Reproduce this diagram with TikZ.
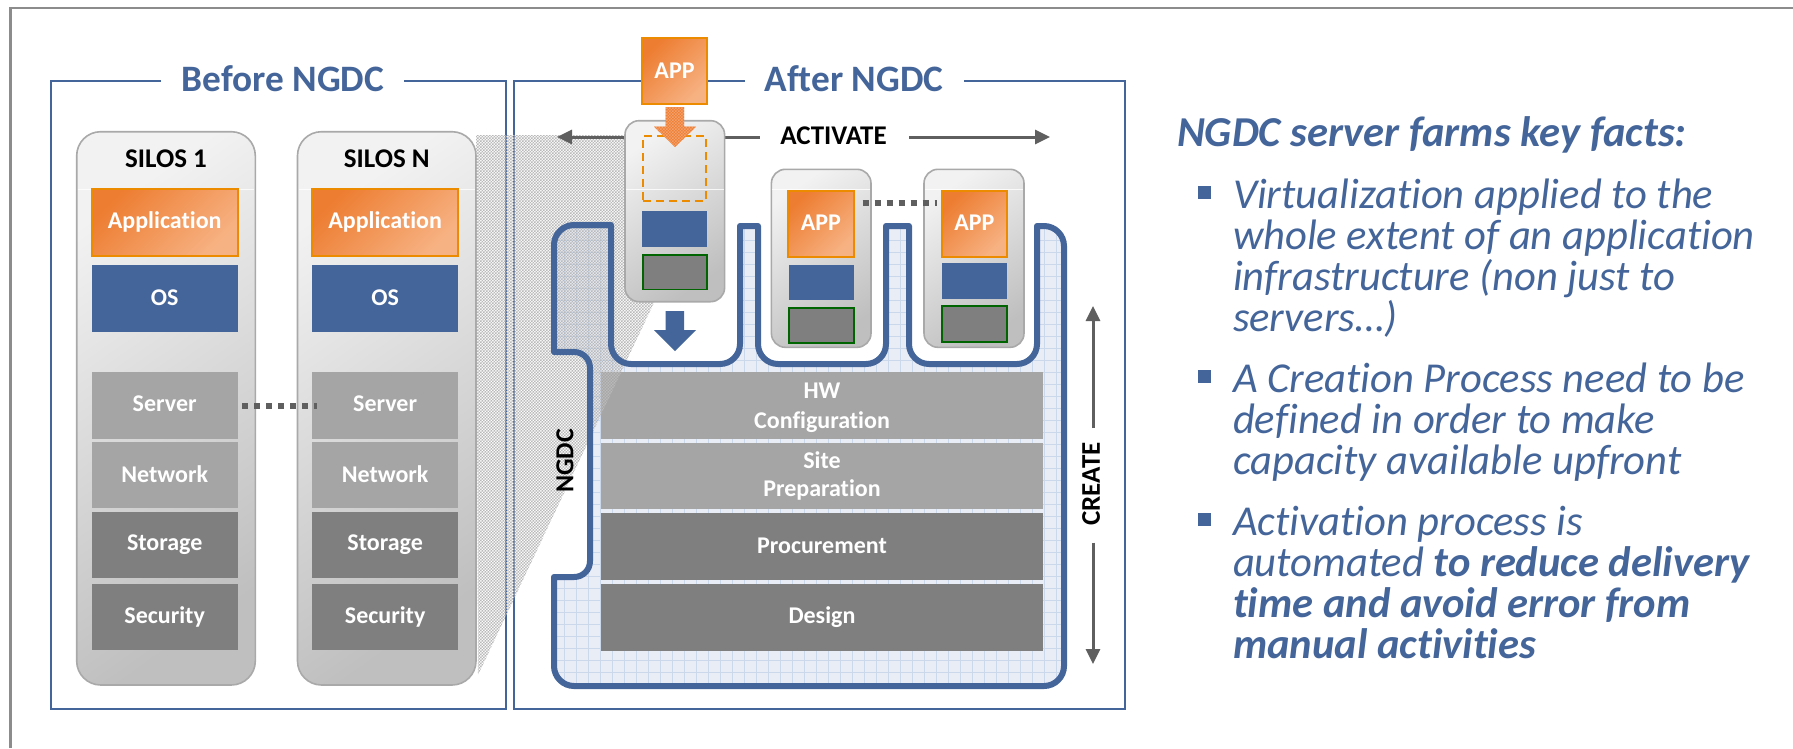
\documentclass[tikz,border=0pt]{standalone}
\usepackage{fontspec}
\setmainfont{Carlito}[Ligatures=NoCommon]
\usetikzlibrary{patterns,arrows.meta}
\definecolor{ngblue}{HTML}{44659A}
\definecolor{ngorange}{HTML}{ED8B00}
\definecolor{arrgray}{HTML}{5F5F5F}
\definecolor{lgray}{HTML}{A5A5A5}
\definecolor{dgray}{HTML}{7F7F7F}
\definecolor{ngreen}{HTML}{006400}
\definecolor{oranga}{HTML}{ED7D31}
\definecolor{orangb}{HTML}{F7B283}
\definecolor{orangc}{HTML}{F4A06A}
\definecolor{silob}{HTML}{A9A9A9}
\definecolor{siloa}{HTML}{BFBFBF}
\definecolor{silot}{HTML}{F2F2F2}
\definecolor{gridbg}{HTML}{E8EDF6}
\definecolor{gridln}{HTML}{CBD7EA}
\pgfdeclarepatternformonly{finedots}{\pgfqpoint{-0.5pt}{-0.5pt}}{\pgfqpoint{3.5pt}{3.5pt}}{\pgfqpoint{3pt}{3pt}}{%
  \pgfpathrectangle{\pgfqpoint{0pt}{0pt}}{\pgfqpoint{1.5pt}{1.5pt}}%
  \pgfpathrectangle{\pgfqpoint{1.5pt}{1.5pt}}{\pgfqpoint{1.5pt}{1.5pt}}%
  \pgfusepath{fill}}
\newcommand{\up}[1]{\raisebox{1pt}[\height][\depth]{#1}}
\newcommand{\down}[1]{\raisebox{-2pt}[\height][\depth]{#1}}
\tikzset{
  lab/.style={font=\fontsize{24}{29.5}\selectfont\bfseries,text=white,align=center},
  labtight/.style={font=\fontsize{24}{28}\selectfont\bfseries},
  blab/.style={font=\fontsize{27}{30}\selectfont\bfseries,text=black},
  title/.style={font=\fontsize{37.3}{40}\selectfont\bfseries,text=ngblue},
  boxbase/.style={rectangle,inner sep=0pt,outer sep=0pt,anchor=center},
  appbox/.style={boxbase,draw=ngorange,line width=1.8pt,lab,shading=axis,left color=oranga,right color=orangb,shading angle=45},
  osbox/.style={boxbase,fill=ngblue,lab},
  lightbox/.style={boxbase,fill=lgray,lab},
  darkbox/.style={boxbase,fill=dgray,lab},
  hwbox/.style={boxbase,fill=dgray,draw=ngreen,line width=1.6pt},
  silobox/.style={boxbase,rounded corners=#1,draw=silob,line width=1.6pt,shading=axis,bottom color=siloa,top color=silot,shading angle=35},
  frameline/.style={draw=ngblue,line width=2pt},
  dotline/.style={draw=arrgray,line width=5.5pt,dash pattern=on 6pt off 6pt},
  arrline/.style={draw=arrgray,line width=3pt},
  arrtip/.style={-{Triangle[length=15pt,width=14pt]}},
  seprule/.style={draw=white,line width=0.8pt,opacity=.8},
  fact/.style={anchor=base west,inner sep=0pt,outer sep=0pt,font=\fontsize{42.6}{41}\selectfont\itshape,text=ngblue},
  factb/.style={fact,font=\fontsize{42.6}{41}\selectfont\bfseries\itshape},
  bul/.style={fill=ngblue}
}
\newcommand{\bx}[7]{\node[#2,minimum width={(#5-#3)*1pt},minimum height={(#6-#4)*1pt}] (#1) at ({(#3+#5)/2},{(#4+#6)/2}) {#7};}
\newcommand{\ngdcpath}{(611,225) -- (574,225) .. controls (563,225) and (554,234) .. (554,245) -- (554,352) -- (574,352) .. controls (583,352) and (590,359) .. (590,368) -- (590,561) .. controls (590,570) and (583,577) .. (574,577) -- (554,577) -- (554,666) .. controls (554,677) and (563,686) .. (574,686) -- (1044,686) .. controls (1055,686) and (1064,677) .. (1064,666) -- (1064,246) .. controls (1064,235) and (1055,226) .. (1044,226) -- (1037,226) -- (1037,344) .. controls (1037,355) and (1028,364) .. (1017,364) -- (929,364) .. controls (918,364) and (909,355) .. (909,344) -- (909,226) -- (886,226) -- (886,344) .. controls (886,355) and (877,364) .. (866,364) -- (778,364) .. controls (767,364) and (758,355) .. (758,344) -- (758,226) -- (740,226) -- (740,344) .. controls (740,355) and (731,364) .. (720,364) -- (631,364) .. controls (620,364) and (611,355) .. (611,344) -- cycle}
\begin{document}
\begin{tikzpicture}[x=1pt,y=-1pt]
\useasboundingbox (0,0) rectangle (1793,748);
\fill[white] (0,0) rectangle (1793,748);
% outer frame
\draw[draw=gray!90,line width=2.6pt] (10.5,748) -- (10.5,8) -- (1793,8);
% panel frames
\draw[frameline] (161,81) -- (50.5,81) -- (50.5,709) -- (505.5,709) -- (505.5,81) -- (404,81);
\draw[frameline] (745,81) -- (513.5,81) -- (513.5,709) -- (1125,709) -- (1125,81) -- (964,81);
\node[title] (tbefore) at (283,79) {Before NGDC};
\node[title] (tafter) at (854,79) {After NGDC};
% NGDC container
\begin{scope}
\clip \ngdcpath;
\fill[fill=gridbg] (540,210) rectangle (1080,700);
\draw[draw=gridln,line width=0.7pt,step=12pt] (540,210) grid (1080,700);
\end{scope}
% stack
\bx{hw}{lightbox}{601}{372.3}{1043}{439}{\down{HW}\\\down{Configuration}}
\bx{site}{lightbox,labtight}{601}{442.7}{1043}{509}{Site\\Preparation}
\bx{proc}{darkbox}{601}{513.3}{1043}{580}{\up{Procurement}}
\bx{design}{darkbox}{601}{584}{1043}{650.7}{Design}
% silos
\foreach \nm/\xa/\xb/\ia/\ib/\lbl in {a/76.7/255.3/91.7/237.7/SILOS 1,b/297.5/476/312.3/458/SILOS N}{
  \bx{silo\nm}{silobox=24pt}{\xa}{131.7}{\xb}{685}{}
  \draw[seprule] (\xa+1,189.3) -- (\xb-1,189.3);
  \node[blab] (sl\nm) at ({(\xa+\xb)/2},159) {\lbl};
  \bx{app\nm}{appbox}{\ia}{189.3}{\ib}{255.7}{\up{Application}}
  \bx{os\nm}{osbox}{\ia}{265.3}{\ib}{331.7}{\up{OS}}
  \bx{srv\nm}{lightbox}{\ia}{372.3}{\ib}{439}{\up{\up{Server}}}
  \bx{net\nm}{lightbox}{\ia}{442}{\ib}{508.3}{\up{Network}}
  \bx{sto\nm}{darkbox}{\ia}{511.7}{\ib}{578}{Storage}
  \bx{sec\nm}{darkbox}{\ia}{584}{\ib}{650.3}{Security}
}
\coordinate (d1a) at (242,406);
\coordinate (d1b) at (317,406);
\draw[dotline] (d1a) -- (d1b);
% projection shading
\fill[pattern=finedots,pattern color=gray!55] (476,135) -- (630,135) -- (660,290) -- (478,675) -- cycle;
% NGDC outline
\draw[draw=ngblue,line width=6pt,line join=round] \ngdcpath;
\node[blab,font=\fontsize{26}{30}\selectfont\bfseries,rotate=90] (ngdcl) at (565,461) {NGDC};
% activate arrows
\coordinate (acta) at (630,137);
\coordinate (actb) at (557,137);
\coordinate (actc) at (720,137);
\coordinate (actd) at (760,137);
\coordinate (acte) at (909,137);
\coordinate (actf) at (1050,137);
\draw[arrline,arrtip] (acta) -- (actb);
\draw[arrline] (actc) -- (actd);
\draw[arrline,arrtip] (acte) -- (actf);
\node[blab] (activate) at (833.5,136) {ACTIVATE};
% create arrows
\coordinate (cra) at (1093,428);
\coordinate (crb) at (1093,306);
\coordinate (crc) at (1093,542.6);
\coordinate (crd) at (1093,664);
\draw[arrline,arrtip] (cra) -- (crb);
\draw[arrline,arrtip] (crc) -- (crd);
\node[blab,rotate=90] (create) at (1091,484) {CREATE};
% server 1
\bx{s1}{silobox=14pt}{625}{120.7}{724.6}{301.7}{}
\draw[seprule] (626,189) -- (723.6,189);
\bx{s1os}{osbox}{642}{211}{707}{246.7}{}
\bx{s1hw}{hwbox}{643}{255}{707}{289.3}{}
\node[boxbase,draw=ngorange,line width=1.8pt,dash pattern=on 8pt off 5pt,minimum width=63pt,minimum height=65pt] (s1d) at (674.7,168.3) {};
\bx{apptop}{appbox}{642}{38.3}{707}{104.3}{\up{APP}}
% orange arrow
\fill[fill=oranga] (665.7,107) -- (684,107) -- (684,126.7) -- (696,126.7) -- (675,147) -- (654,126.7) -- (665.7,126.7) -- cycle;
\fill[pattern=finedots,pattern color=orangc] (665.7,107) -- (684,107) -- (684,126.7) -- (696,126.7) -- (675,147) -- (654,126.7) -- (665.7,126.7) -- cycle;
% blue arrow
\fill[fill=ngblue] (665.7,311) -- (684,311) -- (684,330) -- (696,330) -- (675,351) -- (654,330) -- (665.7,330) -- cycle;
% server 2
\bx{s2}{silobox=14pt}{771.4}{169.3}{871}{347.3}{}
\draw[seprule] (772.4,189) -- (870,189);
\bx{s2app}{appbox}{788}{191}{853.6}{257}{\up{APP}}
\bx{s2os}{osbox}{788.6}{265}{854}{300}{}
\bx{s2hw}{hwbox}{789}{308}{854}{342.7}{}
% server 3
\bx{s3}{silobox=14pt}{924}{169.3}{1024}{347.3}{}
\draw[seprule] (925,189) -- (1023,189);
\bx{s3app}{appbox}{942}{191}{1006.7}{257}{\up{APP}}
\bx{s3os}{osbox}{941.5}{263}{1007}{298.8}{}
\bx{s3hw}{hwbox}{942}{306}{1007}{341.8}{}
\coordinate (d2a) at (862.5,203);
\coordinate (d2b) at (937,203);
\draw[dotline] (d2a) -- (d2b);
% key facts
\node[factb] (t0) at (1177,146.5) {NGDC server farms key facts:};
\fill[bul] (1198,186) rectangle (1211,198.7);
\fill[bul] (1198,370) rectangle (1211,382.7);
\fill[bul] (1198,513.3) rectangle (1211,526);
\node[fact] (l1) at (1233,208.5) {Virtualization applied to the};
\node[fact] (l2) at (1233,249.5) {whole extent of an application};
\node[fact] (l3) at (1233,290.5) {infrastructure (non just to};
\node[fact] (l4) at (1233,331.5) {servers…)};
\node[fact] (l5) at (1233,392) {A Creation Process need to be};
\node[fact] (l6) at (1233,433.2) {defined in order to make};
\node[fact] (l7) at (1233,474.5) {capacity available upfront};
\node[fact] (l8) at (1233,535.5) {Activation process is};
\node[fact] (l9) at (1233,576.5) {automated \textbf{to reduce delivery}};
\node[factb] (l10) at (1233,617.5) {time and avoid error from};
\node[factb] (l11) at (1233,658.5) {manual activities};
\end{tikzpicture}
\end{document}
